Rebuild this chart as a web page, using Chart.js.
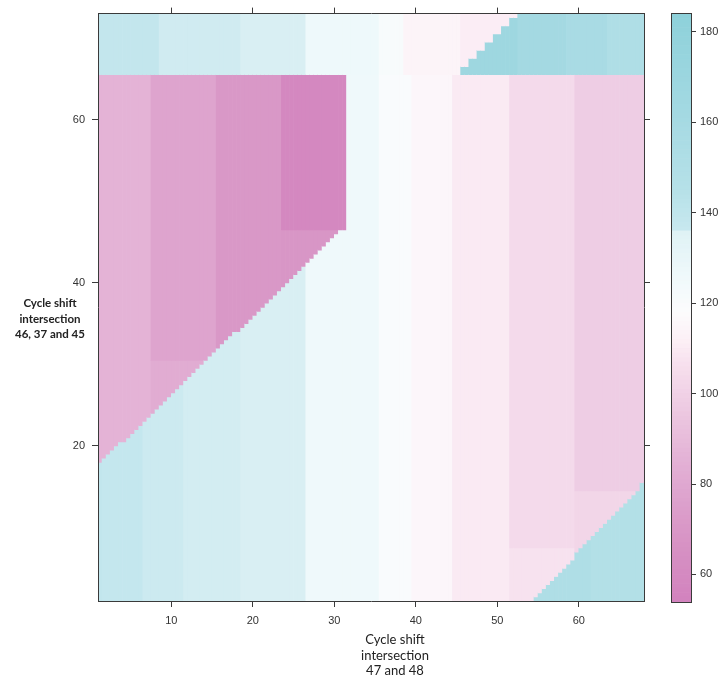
<!DOCTYPE html>
<html>
<head>
<meta charset="utf-8">
<script src="https://cdn.jsdelivr.net/npm/chart.js@4.4.1/dist/chart.umd.min.js"></script>
<style>
  body { margin: 0; background: #fff; }
  #wrap { position: relative; width: 723px; height: 683px; overflow: hidden; }
  #heat { position: absolute; left: 0; top: 0; }
  #key { position: absolute; left: 660px; top: 0; }
  .axis-title { position: absolute; text-align: center; color: #222; white-space: nowrap; }
  #ytitle { left: 0; top: 295px; width: 100px; font: bold 11.5px Lato, sans-serif; line-height: 15.5px; }
  #xtitle { left: 345px; top: 632px; width: 100px; font: 13px Lato, sans-serif; line-height: 15.5px; }
</style>
</head>
<body>
<div id="wrap">
  <canvas id="heat" width="660" height="683"></canvas>
  <canvas id="key" width="63" height="683"></canvas>
  <div class="axis-title" id="ytitle">Cycle shift<br>intersection<br>46, 37 and 45</div>
  <div class="axis-title" id="xtitle">Cycle shift<br>intersection<br>47 and 48</div>
</div>
<script>
// grid: columns 1..68 (x), rows 1..73 (y); cells split in half-steps for the diagonal edges
const nCols = 68;
const nRows = 73;

const xTicks = [10, 20, 30, 40, 50, 60];
const yTicks = [20, 40, 60];
const keyTicks = [60, 80, 100, 120, 140, 160, 180];

// colour key
const keyStops  = [53.9, 65, 75, 85, 92, 100, 106, 112, 118, 126, 135.6, 136.2, 145, 160, 184.2];
const keyColors = ['#d282be', '#d690c3', '#dc9fcb', '#e3b1d5', '#e9c0dc', '#f0d1e6', '#f6dfed', '#fcf0f6',
                   '#fcfcfd', '#eff9fb', '#dff2f5', '#c8e8ef', '#b6e1e8', '#a6dae3', '#8dd1da'];

// top band, rows 66..73, per column
const bandFloor = 66;
const bandVals = [
  138.5, 138.5, 138.5, 138.5, 138.5, 138.5, 138.5, 138.5,
  136, 136, 136, 136, 136, 136, 136, 136, 136, 136,
  135.75, 135.75, 135.75, 135.75, 135.75, 135.75, 135.75, 135.75,
  126.5, 126.5, 126.5, 126.5, 126.5, 126.5, 126.5, 126.5, 126.5,
  121, 121, 121,
  114, 114, 114, 114, 114, 114, 114,
  111, 111, 111, 111, 111, 111, 111, 111, 111, 111, 111, 111,
  111, 111, 111, 111, 111, 111, 111, 111, 111, 111, 111
];

// main field, rows 1..65, per column
const fieldVals = [
  139,
  138, 138, 138, 138, 138,
  136.1, 136.1, 136.1, 136.1, 136.1,
  135.9, 135.9, 135.9, 135.9, 135.9, 135.9, 135.9,
  135.75, 135.75, 135.75, 135.75, 135.75, 135.75, 135.75, 135.75,
  126, 126, 126, 126, 126, 126, 126, 126, 126,
  120, 120, 120, 120,
  115, 115, 115, 115, 115,
  110, 110, 110, 110, 110, 110, 110,
  104, 104, 104, 104, 104, 104, 104, 104,
  98, 98, 98, 98, 98, 98, 98, 98, 98
];

// lighter foot of the right columns (from column 52)
const footStart = 52;
const footVals = [107, 107, 107, 107, 107, 107, 107, 107, 102, 102, 102, 102, 102, 102, 102, 102, 102];
const footTop  = [7, 7, 7, 7, 7, 7, 7, 7, 14, 14, 14, 14, 14, 14, 14, 14, 14];

// upper-left triangle, columns 1..31
const pinkCols = 31;
const pinkUpper = [86, 86, 86, 86, 86, 86, 86, 78, 78, 78, 78, 78, 78, 78, 78,
                   70, 70, 70, 70, 70, 70, 70, 70, 59, 59, 59, 59, 59, 59, 59, 59];
const pinkLower = [86, 86, 86, 86, 86, 86, 86, 82, 82, 82, 82, 82, 82, 82, 82,
                   70, 70, 70, 70, 70, 70, 70, 70, 69, 69, 69, 69, 69, 69, 69, 69];
const pinkSplit = [0, 0, 0, 0, 0, 0, 0, 31, 31, 31, 31, 31, 31, 31, 31,
                   0, 0, 0, 0, 0, 0, 0, 0, 47, 47, 47, 47, 47, 47, 47, 47];
// lower edge of the triangle for each half column, x = 1.25, 1.75, ... 31.25
const pinkEdge = [18, 18.5, 19, 19.5, 20, 20.5, 20.5, 21, 21.5, 22, 22.5, 23, 23.5, 24, 24.5,
                  25, 25.5, 26, 26.5, 27, 27.5, 28, 28.5, 29, 29.5, 30, 30.5, 31, 31.5, 32,
                  32.5, 33, 33.5, 34, 34, 34.5, 35, 35.5, 36, 36.5, 37, 37.5, 38, 38.5, 39,
                  39.5, 40, 40.5, 41, 41.5, 42, 42.5, 43, 43.5, 44, 44.5, 45, 45.5, 46, 46.5, 46.5];

// top-right corner, columns 46..68
const highStart = 46;
const highTop  = [66, 67, 68, 69, 70, 71, 72, 73, 73, 73, 73, 73, 73, 73, 73, 73, 73, 73, 73, 73, 73, 73, 73];
const highVals = [168, 168, 168, 168, 168, 168, 168, 162, 162, 162, 162, 162, 162,
                  157, 157, 157, 157, 157, 152, 152, 152, 152, 152];

// bottom-right corner, columns 55..68
const lowStart = 55;
const lowVals = [152, 152, 152, 152, 152, 152, 152, 148, 148, 148, 148, 148, 148, 148];
// upper edge of the corner for each half column, x = 54.75, 55.25, ... 67.75
const lowEdge = [1.5, 2, 2.5, 3, 3.5, 4, 4.5, 5, 5.5, 6, 7, 7.5, 8, 8.5, 9, 9.5,
                 10, 10.5, 11, 11.5, 12, 12.5, 13, 13.5, 14, 14.5, 15.5];

function edgeAt(edges, firstX, xh) {
  const k = Math.round((xh - firstX) / 0.5);
  return edges[Math.min(Math.max(k, 0), edges.length - 1)];
}

// value of the half cell centred at (xh, yh)
function cellValue(xh, yh) {
  const c = Math.round(xh);
  const r = Math.round(yh);
  if (r >= bandFloor) {
    if (c >= highStart && r <= highTop[c - highStart]) return highVals[c - highStart];
    return bandVals[c - 1];
  }
  if (c <= pinkCols && yh > edgeAt(pinkEdge, 1.25, xh)) {
    const split = pinkSplit[c - 1];
    return split && r < split ? pinkLower[c - 1] : pinkUpper[c - 1];
  }
  if (c >= lowStart && yh < edgeAt(lowEdge, 54.75, xh)) return lowVals[c - lowStart];
  if (c >= footStart && r <= footTop[c - footStart]) return footVals[c - footStart];
  return fieldVals[c - 1];
}

function hexToRgb(h) {
  const n = parseInt(h.slice(1), 16);
  return [(n >> 16) & 255, (n >> 8) & 255, n & 255];
}

function colorFor(v) {
  if (v <= keyStops[0]) return keyColors[0];
  for (let i = 1; i < keyStops.length; i++) {
    if (v <= keyStops[i]) {
      const t = (v - keyStops[i - 1]) / (keyStops[i] - keyStops[i - 1]);
      const a = hexToRgb(keyColors[i - 1]);
      const b = hexToRgb(keyColors[i]);
      const m = a.map((x, k) => Math.round(x + (b[k] - x) * t));
      return `rgb(${m[0]},${m[1]},${m[2]})`;
    }
  }
  return keyColors[keyColors.length - 1];
}

const frameColor = '#3a3a3a';
const tickFont = { family: 'Liberation Sans, Arial, sans-serif', size: 11 };

// one frame side: border + outward ticks, labels optional
function frameAxis(position, min, max, ticks, size, labels, tickLength) {
  const horizontal = position === 'top' || position === 'bottom';
  return {
    type: 'linear',
    position,
    min,
    max,
    offset: false,
    afterBuildTicks: (scale) => { scale.ticks = ticks.map(v => ({ value: v })); },
    afterFit: (scale) => {
      if (horizontal) scale.height = size; else scale.width = size;
    },
    ticks: {
      font: tickFont,
      color: labels ? '#333' : 'rgba(0,0,0,0)',
      padding: 7,
      maxRotation: 0,
      autoSkip: false,
    },
    grid: {
      offset: false,
      drawOnChartArea: false,
      drawTicks: ticks.length > 0,
      tickLength: tickLength,
      tickColor: frameColor,
      tickWidth: 1,
    },
    border: { display: true, color: frameColor, width: 1, z: 1 },
  };
}

// heat map: each half column split into runs of equal value, one floating bar per run
const heatBars = [];
const heatColors = [];
for (let c = 1; c <= nCols; c++) {
  for (const xh of [c - 0.25, c + 0.25]) {
    let y0 = 0.75;
    for (let yh = 1.25; yh <= nRows + 0.75; yh += 0.5) {
      if (yh > nRows + 0.25 || cellValue(xh, yh) !== cellValue(xh, y0)) {
        heatBars.push({ x: xh, y: [y0 - 0.25, yh - 0.25] });
        heatColors.push(colorFor(cellValue(xh, y0)));
        y0 = yh;
      }
    }
  }
}

new Chart(document.getElementById('heat'), {
  type: 'bar',
  data: {
    datasets: [{
      data: heatBars,
      backgroundColor: heatColors,
      borderWidth: 0,
      grouped: false,
      categoryPercentage: 1,
      barPercentage: 1,
      clip: 0,
    }],
  },
  options: {
    responsive: false,
    animation: false,
    events: [],
    layout: { padding: 0 },
    plugins: { legend: { display: false }, tooltip: { enabled: false } },
    scales: {
      x: frameAxis('bottom', 1, 68, xTicks, 82, true, 6),
      xTop: frameAxis('top', 1, 68, xTicks, 13, false, 6),
      y: frameAxis('left', 1, 73, yTicks, 98, true, 6),
      yRight: frameAxis('right', 1, 73, yTicks, 16, false, 6),
    },
  },
});

// colour key: one thin floating bar per unit step
const keyMin = keyStops[0];
const keyMax = keyStops[keyStops.length - 1];
const keyLevels = [];
for (let v = Math.floor(keyMin); v < keyMax; v += 1) keyLevels.push(v);

const keySets = keyLevels.map(v => ({
  data: [[v, v + 1]],
  backgroundColor: colorFor(v + 0.5),
  borderWidth: 0,
  grouped: false,
  categoryPercentage: 1,
  barPercentage: 1,
  clip: 0,
}));

const keyY = frameAxis('right', keyMin, keyMax, keyTicks, 32, true, 5);
keyY.ticks.padding = 4;

new Chart(document.getElementById('key'), {
  type: 'bar',
  data: { labels: ['key'], datasets: keySets },
  options: {
    responsive: false,
    animation: false,
    events: [],
    layout: { padding: 0 },
    plugins: { legend: { display: false }, tooltip: { enabled: false } },
    scales: {
      x: {
        type: 'category',
        position: 'bottom',
        afterFit: (scale) => { scale.height = 81; },
        ticks: { display: false },
        grid: { display: false },
        border: { display: true, color: frameColor, width: 1, z: 1 },
      },
      xTop: {
        type: 'category',
        position: 'top',
        labels: ['key'],
        afterFit: (scale) => { scale.height = 13; },
        ticks: { display: false },
        grid: { display: false },
        border: { display: true, color: frameColor, width: 1, z: 1 },
      },
      yLeft: frameAxis('left', keyMin, keyMax, [], 11, false, 0),
      y: keyY,
    },
  },
});
</script>
</body>
</html>
